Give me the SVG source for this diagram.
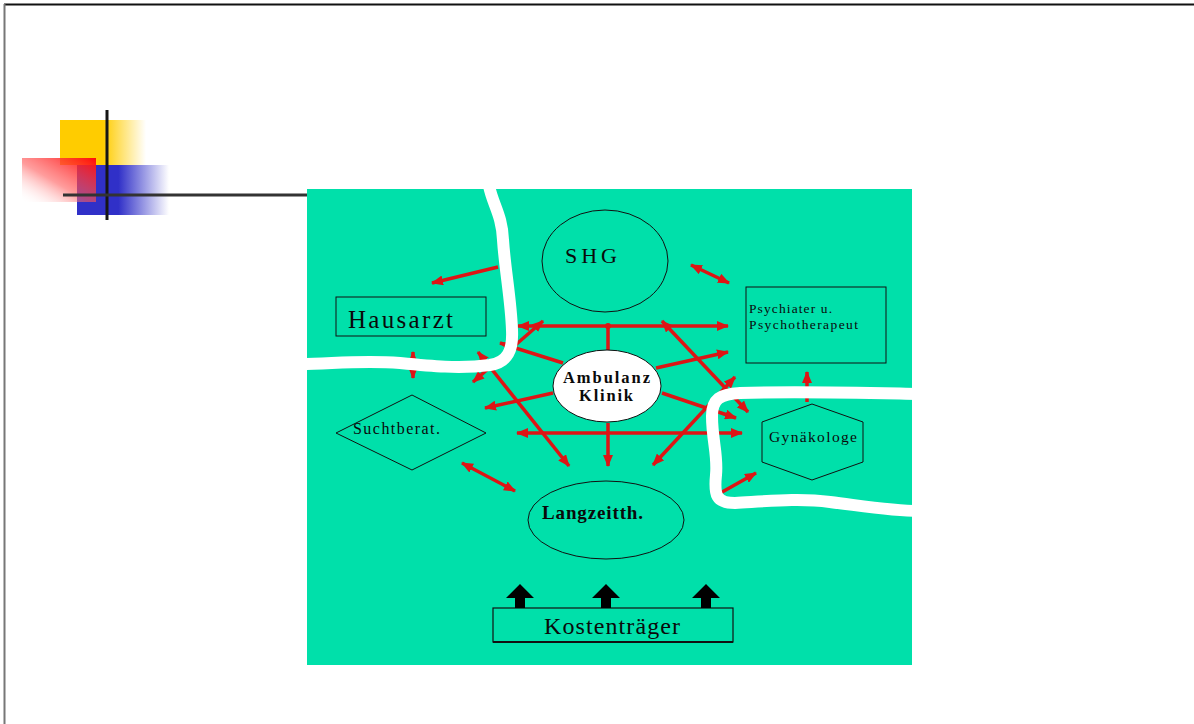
<svg xmlns="http://www.w3.org/2000/svg" width="1194" height="724" viewBox="0 0 1194 724">
<style>
.t{font-family:"Liberation Serif","Times New Roman",serif;fill:#0a0a0a}
.n{fill:none;stroke:#111;stroke-width:1}
.r{stroke:#dd1515;stroke-width:3.5;fill:none}
.a{marker-end:url(#h)}
.d{marker-start:url(#h);marker-end:url(#h)}
.w{fill:none;stroke:#fff;stroke-width:12;stroke-linecap:round;stroke-linejoin:round}
</style>
<defs>
<marker id="h" viewBox="0 0 12 10" refX="11" refY="5" markerWidth="12" markerHeight="10" markerUnits="userSpaceOnUse" orient="auto-start-reverse">
<path d="M0,0 L12,5 L0,10 z" fill="#dd1515"/>
</marker>
<linearGradient id="gy" x1="0" y1="0" x2="1" y2="0">
<stop offset="0" stop-color="#ffcc00"/><stop offset="0.5" stop-color="#ffcc00"/><stop offset="1" stop-color="#ffcc00" stop-opacity="0"/>
</linearGradient>
<linearGradient id="gb" x1="0" y1="0" x2="1" y2="0">
<stop offset="0" stop-color="#3030c8"/><stop offset="0.45" stop-color="#3030c8"/><stop offset="1" stop-color="#3030c8" stop-opacity="0"/>
</linearGradient>
<linearGradient id="gr" x1="1" y1="0" x2="0" y2="1">
<stop offset="0" stop-color="#ff0a0a"/><stop offset="0.55" stop-color="#ff5a5a" stop-opacity="0.6"/><stop offset="1" stop-color="#ffffff" stop-opacity="0"/>
</linearGradient>
<linearGradient id="gl" x1="0" y1="0" x2="1" y2="0">
<stop offset="0" stop-color="#d8d8d8"/><stop offset="1" stop-color="#ffffff"/>
</linearGradient>
</defs>
<rect x="0" y="0" width="1194" height="724" fill="#fff"/>
<line x1="4" y1="4.5" x2="1194" y2="4.5" stroke="#111" stroke-width="2"/>
<line x1="4.5" y1="4" x2="4.5" y2="724" stroke="#777" stroke-width="2"/>
<g id="logo">
<rect x="60" y="120" width="86" height="45" fill="url(#gy)"/>
<rect x="77" y="165" width="92" height="50" fill="url(#gb)"/>
<rect x="22" y="158" width="74" height="44" fill="url(#gr)"/>
<line x1="107" y1="110" x2="107" y2="220" stroke="#151515" stroke-width="3"/>
<line x1="63" y1="195" x2="308" y2="195" stroke="#333" stroke-width="3"/>
<line x1="912" y1="194" x2="1085" y2="194" stroke="url(#gl)" stroke-width="2"/>
</g>
<rect id="panel" x="307" y="189" width="605" height="476" fill="#00e0aa"/>
<g id="SHG"><ellipse class="n" cx="605" cy="261" rx="63" ry="51"/><text class="t" x="565" y="263" font-size="22" textLength="52" lengthAdjust="spacing">SHG</text></g>
<g id="Hausarzt"><rect class="n" x="336" y="297" width="150" height="39"/><text class="t" x="348" y="328" font-size="25" textLength="105" lengthAdjust="spacing">Hausarzt</text></g>
<g id="Psychiater"><rect class="n" x="746" y="287" width="140" height="76"/><text class="t" x="749" y="313" font-size="13.5" textLength="83" lengthAdjust="spacing">Psychiater u.</text><text class="t" x="749" y="329" font-size="13.5" textLength="109" lengthAdjust="spacing">Psychotherapeut</text></g>
<g id="Suchtberat"><polygon class="n" points="336,433 412,395 486,433 412,470"/><text class="t" x="353" y="434" font-size="16" textLength="87" lengthAdjust="spacing">Suchtberat.</text></g>
<g id="Langzeitth"><ellipse class="n" cx="606" cy="520" rx="78" ry="39"/><text class="t" x="542" y="519" font-size="19" font-weight="bold" textLength="101" lengthAdjust="spacing">Langzeitth.</text></g>
<g id="Gynaekologe"><polygon class="n" points="812,404 863,422 863,462 812,480 762,462 762,422"/><text class="t" x="769" y="442" font-size="15.5" textLength="88" lengthAdjust="spacing">Gynäkologe</text></g>
<g id="Kostentraeger"><rect x="493" y="608" width="240" height="34" fill="none" stroke="#111" stroke-width="1.2"/><line x1="493" y1="642" x2="733" y2="642" stroke="#111" stroke-width="2"/><text class="t" x="544" y="634" font-size="24" textLength="136" lengthAdjust="spacing">Kostenträger</text></g>
<g id="connectors">
<line class="r d" x1="518" y1="326" x2="728" y2="326"/>
<line class="r" x1="608" y1="350" x2="608" y2="326"/>
<circle cx="608" cy="326" r="3" fill="#dd1515"/>
<line class="r a" x1="563" y1="363" x2="500" y2="343"/>
<line class="r d" x1="473" y1="382" x2="543" y2="321"/>
<line class="r d" x1="478" y1="352" x2="569" y2="466"/>
<line class="r a" x1="553" y1="393" x2="485" y2="408"/>
<line class="r d" x1="517" y1="433" x2="742" y2="433"/>
<line class="r a" x1="608" y1="423" x2="608" y2="466"/>
<line class="r d" x1="653" y1="465" x2="735" y2="377"/>
<line class="r a" x1="656" y1="368" x2="728" y2="352"/>
<line class="r a" x1="662" y1="393" x2="736" y2="418"/>
<line class="r d" x1="662" y1="321" x2="748" y2="412"/>
<line class="r a" x1="498" y1="267" x2="432" y2="283"/>
<line class="r d" x1="691" y1="265" x2="729" y2="283"/>
<line class="r d" x1="413" y1="352" x2="413" y2="378"/>
<line class="r d" x1="462" y1="463" x2="515" y2="491"/>
<line class="r a" x1="807" y1="402" x2="807" y2="372"/>
<line class="r a" x1="715" y1="496" x2="756" y2="473"/>
<path d="M520,584 L506,598 L515,598 L515,608 L525,608 L525,598 L534,598 z" fill="#000"/>
<path d="M606,584 L592,598 L601,598 L601,608 L611,608 L611,598 L620,598 z" fill="#000"/>
<path d="M706,584 L692,598 L701,598 L701,608 L711,608 L711,598 L720,598 z" fill="#000"/>
</g>
<g id="Ambulanz"><ellipse cx="607" cy="386" rx="54" ry="36" fill="#fff" stroke="#111" stroke-width="1"/><text class="t" x="563" y="383" font-size="16.5" font-weight="bold" textLength="87" lengthAdjust="spacing">Ambulanz</text><text class="t" x="579" y="401" font-size="16.5" font-weight="bold" textLength="54" lengthAdjust="spacing">Klinik</text></g>
<g id="borders">
<path class="w" d="M489,186 C493,205 502,215 503,240 C505,270 511,300 512,330 C513,350 508,362 490,365 C460,369 430,366 400,363 C360,360 330,364 301,364"/>
<path class="w" d="M918,394 C870,393 800,391 740,393 C720,394 712,399 712,416 C712,440 718,455 716,475 C714,495 716,503 735,503 C770,501 800,498 830,502 C870,507 895,511 918,511"/>
</g>
<rect x="912" y="380" width="12" height="140" fill="#fff"/>
<rect x="300" y="355" width="7" height="20" fill="#fff"/>
</svg>
